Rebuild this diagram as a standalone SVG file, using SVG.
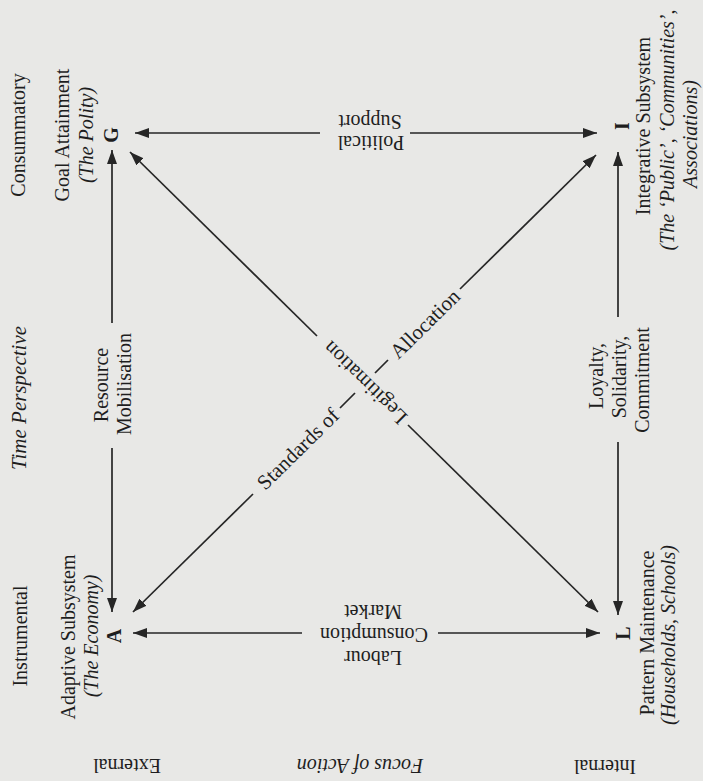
<svg xmlns="http://www.w3.org/2000/svg" width="703" height="781" viewBox="0 0 703 781">
<style>
.t{font-family:'Liberation Serif','Times New Roman',serif;font-size:20px;fill:#1e1e1e;text-anchor:middle;dominant-baseline:central}
.i{font-style:italic}
.b{font-weight:bold}
.d{font-size:21px}
.c{stroke:#262626;stroke-width:1.7;fill:none}
.a{marker-end:url(#ah)}
</style>
<defs>
<marker id="ah" viewBox="0 0 14 10" refX="14" refY="5" markerWidth="14" markerHeight="10" markerUnits="userSpaceOnUse" orient="auto">
<path d="M0,0 L14,5 L0,10 z" fill="#262626"/>
</marker>
</defs>
<rect width="703" height="781" fill="#e8e8e6"/>

<g id="axis-labels">
<text class="t" transform="translate(18 135) rotate(-90)">Consummatory</text>
<text class="t" transform="translate(20 636) rotate(-90)">Instrumental</text>
<text class="t i" style="font-size:21px" transform="translate(19 398) rotate(-90)">Time Perspective</text>
<text class="t" transform="translate(127 766) rotate(180)">External</text>
<text class="t i" transform="translate(360 766) rotate(180)">Focus of Action</text>
<text class="t" transform="translate(605 767) rotate(180)">Internal</text>
</g>

<g id="node-G">
<text class="t" transform="translate(62 135) rotate(-90)">Goal Attainment</text>
<text class="t i" transform="translate(86 135) rotate(-90)">(The Polity)</text>
<text class="t b" transform="translate(111 135) rotate(-90)">G</text>
</g>

<g id="node-A">
<text class="t" transform="translate(68 637) rotate(-90)">Adaptive Subsystem</text>
<text class="t i" transform="translate(91 636) rotate(-90)">(The Economy)</text>
<text class="t b" transform="translate(114 636) rotate(-90)">A</text>
</g>

<g id="node-I">
<text class="t b" transform="translate(622 126) rotate(-90)">I</text>
<text class="t" transform="translate(643 126) rotate(-90)">Integrative Subsystem</text>
<text class="t i" transform="translate(667 130) rotate(-90)">(The ‘Public’, ‘Communities’,</text>
<text class="t i" transform="translate(690 134) rotate(-90)">Associations)</text>
</g>

<g id="node-L">
<text class="t b" transform="translate(623 633) rotate(-90)">L</text>
<text class="t" transform="translate(647 633) rotate(-90)">Pattern Maintenance</text>
<text class="t i" transform="translate(668 635) rotate(-90)">(Households, Schools)</text>
</g>

<g id="connectors">
<path class="c a" d="M320,133 H135"/>
<path class="c a" d="M410,133 H597"/>
<path class="c a" d="M302,633 H133"/>
<path class="c a" d="M438,633 H600"/>
<path class="c a" d="M112,323 V150"/>
<path class="c a" d="M112,448 V612"/>
<path class="c a" d="M618,317 V152"/>
<path class="c a" d="M618,442 V615"/>
<path class="c a" d="M317,336 L130,152"/>
<path class="c a" d="M408,425 L598,612"/>
<path class="c a" d="M253,494 L133,612"/>
<path class="c" d="M340,408 L355,393"/>
<path class="c" d="M375,373 L388,360"/>
<path class="c a" d="M460,289 L596,155"/>
</g>

<g id="edge-labels">
<text class="t" transform="translate(370 122) rotate(180)">Support</text>
<text class="t" transform="translate(371 143) rotate(180)">Political</text>
<text class="t" transform="translate(373 612) rotate(180)">Market</text>
<text class="t" transform="translate(374 635) rotate(180)">Consumption</text>
<text class="t" transform="translate(373 658) rotate(180)">Labour</text>
<text class="t" transform="translate(101 385) rotate(-90)">Resource</text>
<text class="t" transform="translate(124 384) rotate(-90)">Mobilisation</text>
<text class="t" transform="translate(596 376) rotate(-90)">Loyalty,</text>
<text class="t" transform="translate(619 377) rotate(-90)">Solidarity,</text>
<text class="t" transform="translate(642 380) rotate(-90)">Commitment</text>
<text class="t d" transform="translate(298 449) rotate(-44.6)">Standards of</text>
<text class="t d" transform="translate(425 324) rotate(-44.6)">Allocation</text>
<text class="t d" transform="translate(365 383) rotate(224.5)">Legitimation</text>
</g>
</svg>
